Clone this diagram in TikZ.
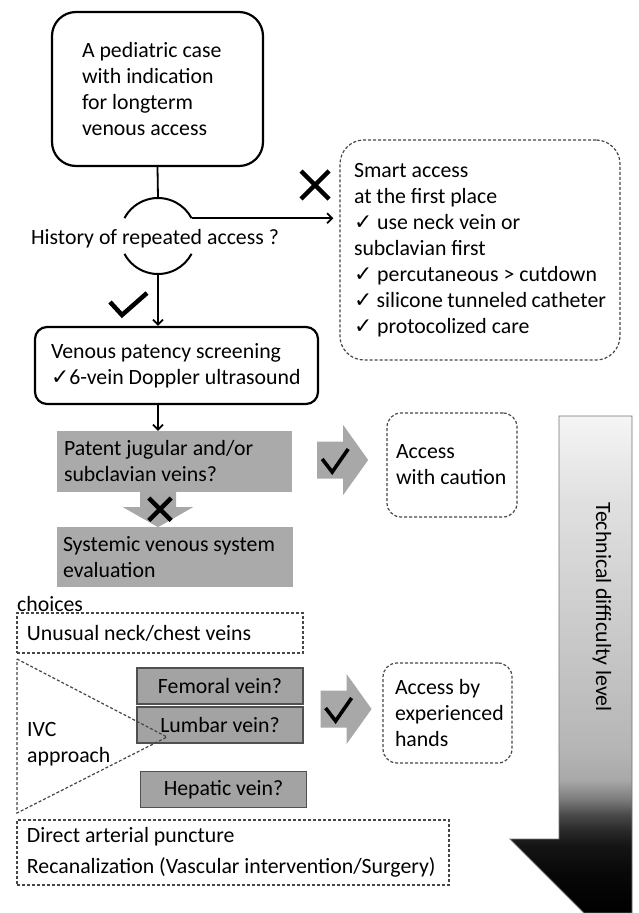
\documentclass[tikz,border=0pt]{standalone}
\usepackage{fontspec}
\setmainfont{Carlito}
\newfontfamily\symfont{DejaVu Sans}
\newcommand\chk{{\symfont ✓}}
\usetikzlibrary{calc,positioning}
\usetikzlibrary{arrows.meta}
\definecolor{boxgray}{RGB}{170,170,170}
\definecolor{veingray}{RGB}{163,163,163}
\definecolor{fatgray}{RGB}{168,168,168}
\definecolor{edgegray}{RGB}{80,80,80}
\definecolor{dashgray}{RGB}{70,70,70}
\pgfdeclareverticalshading{techfade}{100bp}{color(0bp)=(black); color(25bp)=(black); color(29bp)=(black!97); color(31.8bp)=(black!92); color(33.3bp)=(black!84); color(34.9bp)=(black!71); color(36.4bp)=(black!52); color(38.4bp)=(black!34); color(41.4bp)=(black!29); color(51.5bp)=(black!22); color(66.5bp)=(black!12); color(75bp)=(black!4); color(100bp)=(black!4)}

\begin{document}
\begin{tikzpicture}[x=1pt,y=-1pt,font=\fontsize{21.8}{26}\selectfont,
solidbox/.style={draw,line width=2.2pt,align=flush left},
graybox/.style={fill=boxgray,align=flush left,inner ysep=0pt},
dashbox/.style={draw=dashgray,line width=1.2pt,dash pattern=on 3pt off 2pt,align=flush left},
veinbox/.style={draw=edgegray,line width=1.2pt,fill=veingray,minimum width=166,minimum height=36,inner sep=0pt},
link/.style={line width=1.8pt,-{Straight Barb[length=5pt,width=10pt]}},
markline/.style={line width=4.5pt},
yesmark/.pic={\draw[markline] (-17,-2) -- (-5,11) -- (20,-11);},
nomark/.pic={\draw[markline] (-14,-14) -- (14,14) (-14,14) -- (14,-14);},
fatarrow/.pic={\fill[fatgray] (0,-18.5) -- (26,-18.5) -- (26,-35) -- (51,0) -- (26,35) -- (26,18.5) -- (0,18.5) -- cycle;
\draw[line width=3.6pt] (5,-1) -- (15,12) -- (31,-11);}]
\useasboundingbox (0,0) rectangle (638,913);

\node[solidbox,rounded corners=24pt,minimum width=211,minimum height=154,text width=151,inner xsep=30] (start) at (157.5,89) {A pediatric case\\with indication\\for longterm\\venous access};
\node[circle,minimum size=76,inner sep=0,outer sep=0] (hist) at (158,236) {};
\node (histq) at (155,239) {History of repeated access ?};
\draw[line width=2pt] (hist.152) arc (152:28:38pt) (hist.208) arc (208:332:38pt);
\draw[line width=1.8pt] (start.south) -- (hist.north);

\node[dashbox,rounded corners=24pt,text width=252,inner xsep=14,minimum height=220] (smart) at (480,250) {Smart access\\at the first place\\\chk{} use neck vein or\\subclavian first\\\chk{} percutaneous > cutdown\\\chk{} silicone tunneled catheter\\\chk{} protocolized care};
\draw[link,shorten >=6pt] (hist.28) -- (hist.28 -| smart.west);
\pic at (315,185) {nomark};

\node[solidbox,rounded corners=12pt,text width=251,inner xsep=16,minimum height=77] (screen) at (176.5,365.5) {Venous patency screening\\\chk6-vein Doppler ultrasound};
\draw[link] (hist.south) -- (hist.south |- screen.north);
\pic at (127,304) {yesmark};

\node[graybox,text width=221,inner xsep=7,minimum height=61] (patent) at (174.5,461.5) {Patent jugular and/or\\subclavian veins?};
\draw[link] (hist.south |- screen.south) -- (hist.south |- patent.north);
\node[graybox,text width=224,inner xsep=6,minimum height=60] (systemic) at (175,557) {Systemic venous system\\evaluation};
\coordinate (dn) at (hist.south |- patent.south);
\fill[fatgray] ($(dn)+(-18,-1)$) -- ++(0,16) -- ++(-17,0) -- ($(dn)+(0,35)$) -- ($(dn)+(35,15)$) -- ++(-17,0) -- ++(0,-16) -- cycle;
\pic[scale=0.8] at ($(dn)+(2,17)$) {nomark};

\pic at ($(patent.east)+(25,-1.5)$) {fatarrow};
\node[dashbox,rounded corners=14pt,text width=112,inner xsep=9,minimum height=104] (caution) at (452,465) {Access\\with caution};

\node[anchor=base west,inner sep=0] (choices) at (17,611) {choices};
\node[dashbox,text width=266,inner xsep=10,minimum height=40] (unusual) at (160,633) {Unusual neck/chest veins};
\node[veinbox] (femoral) at (220,686) {Femoral vein?};
\node[veinbox] (lumbar) at (220,725) {Lumbar vein?};
\node[veinbox] (hepatic) at (223.5,789.5) {Hepatic vein?};
\draw[dashgray,line width=1.2pt,dash pattern=on 3pt off 2pt] (17,659) -- (167,737) -- (17,813) -- cycle;
\node[anchor=west,align=left,inner sep=0] (ivc) at (27,744) {IVC\\approach};
\pic at ($(lumbar.east)+(17,-16)$) {fatarrow};
\node[dashbox,rounded corners=14pt,text width=105,inner xsep=12,minimum height=100] (hands) at (447.5,713) {Access by\\experienced\\hands};
\node[dashbox,text width=412,inner xsep=10,minimum height=65] (direct) at (233,852.5) {Direct arterial puncture\\[5pt]Recanalization (Vascular intervention/Surgery)};

\shadedraw[shading=techfade,draw=black!55,line width=0.8pt] (559,416) -- (632,416) -- (632,913) -- (584,913) -- (510,839) -- (559,839) -- cycle;
\node[rotate=-90] (tech) at (602,607) {Technical difficulty level};
\end{tikzpicture}
\end{document}
